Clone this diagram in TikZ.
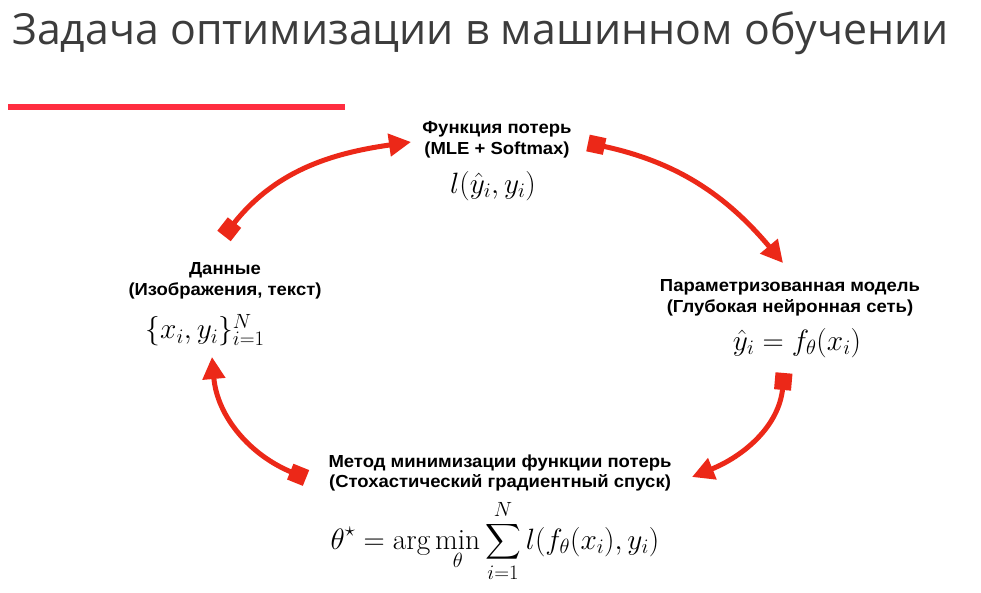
\RequirePackage{fix-cm}
\documentclass[tikz,border=0pt]{standalone}
\usepackage{fontspec}
\usepackage{amsmath}
\newfontfamily\lblfont[FakeStretch=1.06]{Liberation Sans}
\newfontfamily\titlefont{Open Sans}
\usetikzlibrary{arrows.meta}
\definecolor{arrowred}{RGB}{236,40,24}
\definecolor{barred}{RGB}{255,45,64}
\definecolor{titlegray}{RGB}{60,60,60}
\tikzset{
  cyc/.style={line width=5bp, arrowred,
    {Square[length=17bp,width=17bp]}-{Triangle[length=22bp,width=22bp]}},
  lbl/.style={align=center, font=\lblfont\fontsize{17.5}{21}\selectfont\bfseries, inner sep=0pt},
  frm/.style={inner sep=0pt, font=\fontsize{29.5}{34}\selectfont}
}
\begin{document}
\begin{tikzpicture}[x=1bp,y=1bp]
\useasboundingbox (0,0) rectangle (981,593);
\fill[white] (0,0) rectangle (981,593);
% title
\node[anchor=base west, inner sep=0pt, text=titlegray, font=\titlefont\fontsize{43}{50}\selectfont] (title) at (12,548) {Задача оптимизации в машинном обучении};
\fill[barred] (8,483) rectangle (345,489);
% top
\node[lbl] (toplbl) at (497,453) {Функция потерь\\(MLE + Softmax)};
\node[frm] (topf) at (493,407) {$l(\hat{y}_i, y_i)$};
% left
\node[lbl] (leftlbl) at (225,312) {Данные\\(Изображения, текст)};
\node[frm] (leftf) at (205,263) {$\{x_i, y_i\}_{i=1}^N$};
% right
\node[lbl] (rightlbl) at (790,295) {Параметризованная модель\\(Глубокая нейронная сеть)};
\node[frm] (rightf) at (797,250) {$\hat{y}_i = f_\theta(x_i)$};
% bottom
\node[lbl] (botlbl) at (500,120) {Метод минимизации функции потерь\\(Стохастический градиентный спуск)};
\node[frm] (botf) at (495,52) {$\displaystyle \theta^\star = \arg\min_\theta \sum_{i=1}^N l(f_\theta(x_i), y_i)$};
% arrow endpoints
\coordinate (a1s) at (224,357);
\coordinate (a1e) at (411,451);
\coordinate (a2s) at (588,450);
\coordinate (a2e) at (783,330);
\coordinate (a3s) at (784,220);
\coordinate (a3e) at (692,116);
\coordinate (a4s) at (306,115);
\coordinate (a4e) at (212,236);
\draw[cyc] (a1s) to[out=52,in=188] (a1e);
\draw[cyc] (a2s) to[out=-12,in=130] (a2e);
\draw[cyc] (a3s) to[out=-95,in=22] (a3e);
\draw[cyc] (a4s) to[out=158,in=-85] (a4e);
\end{tikzpicture}
\end{document}
